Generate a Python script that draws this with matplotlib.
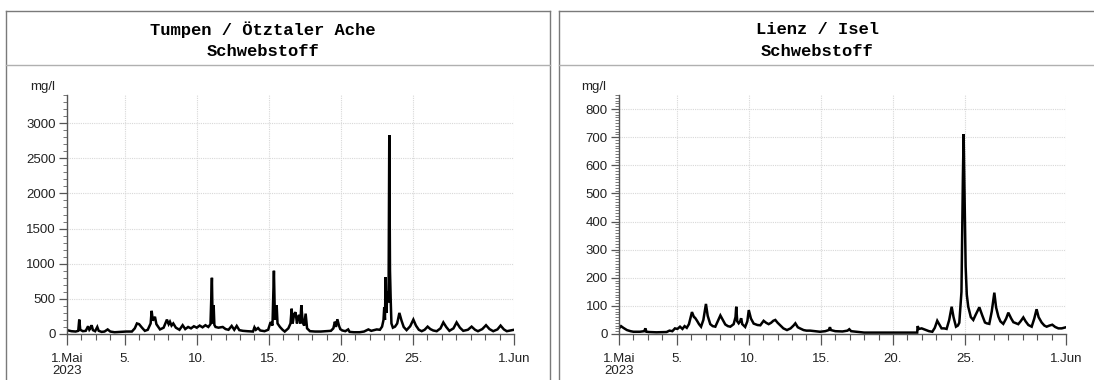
import matplotlib
matplotlib.use("Agg")
import matplotlib.pyplot as plt
from matplotlib.lines import Line2D
from matplotlib.ticker import FixedLocator, MultipleLocator

# ---------------- data (day of May, fractional; 32 = 1 June) ----------------
tumpen_day = [1.0, 1.3, 1.6, 1.78, 1.85, 1.92, 2.1, 2.3, 2.46, 2.55, 2.62, 2.71, 2.8, 2.95,
              3.1, 3.2, 3.4, 3.6, 3.82, 4.0, 4.3, 4.7, 5.1, 5.5, 5.7, 5.85, 6.0, 6.2, 6.4,
              6.6, 6.8, 6.87, 6.95, 7.1, 7.2, 7.45, 7.7, 7.93, 8.05, 8.14, 8.25, 8.37, 8.55,
              8.8, 9.02, 9.2, 9.4, 9.6, 9.8, 10.0, 10.2, 10.4, 10.6, 10.8, 10.95, 11.05,
              11.1, 11.17, 11.22, 11.3, 11.5, 11.8, 12.0, 12.2, 12.42, 12.6, 12.77, 12.95,
              13.2, 13.5, 13.9, 14.0, 14.1, 14.25, 14.4, 14.7, 14.95, 15.12, 15.25, 15.35,
              15.42, 15.54, 15.6, 15.77, 15.95, 16.1, 16.35, 16.5, 16.58, 16.65, 16.75,
              16.85, 16.95, 17.02, 17.1, 17.18, 17.25, 17.35, 17.45, 17.55, 17.65, 17.85,
              18.2, 18.6, 19.0, 19.3, 19.47, 19.58, 19.65, 19.75, 19.86, 19.95, 20.1, 20.3,
              20.5, 20.6, 20.9, 21.3, 21.6, 21.9, 22.1, 22.48, 22.7, 22.85, 22.95, 23.0,
              23.05, 23.1, 23.15, 23.22, 23.3, 23.35, 23.4, 23.45, 23.5, 23.6, 23.75, 23.9,
              24.05, 24.2, 24.35, 24.55, 24.8, 25.02, 25.2, 25.4, 25.6, 25.8, 26.01, 26.2,
              26.4, 26.64, 26.9, 27.1, 27.3, 27.52, 27.8, 28.02, 28.25, 28.48, 28.8, 29.06,
              29.3, 29.5, 29.8, 30.06, 30.3, 30.56, 30.85, 31.07, 31.3, 31.5, 31.75, 32.0]
tumpen_val = [55, 40, 35, 45, 205, 60, 40, 45, 110, 60, 80, 125, 55, 40,
              100, 45, 30, 35, 65, 35, 25, 30, 35, 35, 80, 150, 140, 90, 45,
              60, 150, 330, 190, 245, 140, 65, 90, 205, 140, 175, 120, 150, 90,
              60, 125, 70, 100, 80, 110, 90, 120, 95, 125, 100, 140, 800,
              150, 410, 130, 100, 90, 100, 70, 60, 115, 60, 115, 55,
              45, 40, 35, 95, 60, 85, 50, 40, 60, 170, 120, 900,
              200, 410, 150, 100, 60, 35, 80, 150, 360, 150, 280,
              310, 150, 240, 270, 150, 410, 160, 120, 290, 80, 40,
              35, 35, 40, 45, 80, 175, 100, 210, 120, 70, 50, 40,
              65, 30, 25, 25, 35, 65, 45, 65, 60, 105, 200, 380,
              200, 810, 300, 600, 450, 2830, 900, 480, 150, 90, 105, 150,
              300, 190, 100, 55, 110, 205, 120, 60, 40, 60, 105, 70,
              50, 40, 80, 165, 100, 45, 80, 165, 90, 45, 60, 105,
              60, 40, 70, 125, 70, 40, 65, 120, 65, 40, 50, 60]

lienz_day = [1.0, 1.14, 1.3, 1.55, 1.8, 2.0, 2.45, 2.75, 2.83, 2.9, 3.1, 3.6, 4.3, 4.5, 4.7,
             4.88, 5.05, 5.23, 5.4, 5.55, 5.7, 5.85, 6.06, 6.2, 6.27, 6.4, 6.55, 6.69, 6.85,
             7.03, 7.15, 7.33, 7.5, 7.68, 7.85, 8.03, 8.2, 8.37, 8.55, 8.72, 8.95, 9.08,
             9.13, 9.2, 9.3, 9.4, 9.47, 9.55, 9.75, 9.9, 10.0, 10.15, 10.34, 10.6, 10.8,
             11.03, 11.2, 11.38, 11.55, 11.7, 11.84, 12.0, 12.18, 12.4, 12.65, 12.9, 13.1,
             13.23, 13.4, 13.55, 13.8, 14.0, 14.25, 14.6, 14.94, 15.3, 15.55, 15.63, 15.7,
             16.0, 16.5, 16.85, 16.97, 17.1, 17.48, 18.0, 18.5, 19.5, 20.5, 21.0, 21.68,
             21.71, 21.8, 21.99, 22.2, 22.5, 22.73, 22.9, 23.07, 23.2, 23.37, 23.55, 23.72,
             23.9, 24.07, 24.2, 24.37, 24.5, 24.6, 24.75, 24.85, 24.9, 24.96, 25.04, 25.12,
             25.22, 25.4, 25.57, 25.75, 25.99, 26.2, 26.38, 26.5, 26.68, 26.85, 27.03,
             27.15, 27.31, 27.45, 27.65, 27.85, 28.0, 28.2, 28.35, 28.69, 28.85, 29.04,
             29.2, 29.39, 29.62, 29.8, 29.96, 30.1, 30.31, 30.5, 30.66, 30.85, 31.05,
             31.25, 31.47, 31.7, 32.0]
lienz_val = [20, 28, 22, 14, 10, 8, 8, 10, 20, 8, 7, 6, 7, 12, 10,
             20, 18, 26, 18, 28, 22, 35, 78, 60, 58, 48, 35, 26, 50,
             107, 65, 35, 28, 26, 45, 66, 50, 34, 28, 26, 35, 60,
             97, 45, 38, 45, 56, 35, 25, 45, 85, 55, 37, 32, 31,
             47, 40, 35, 40, 47, 50, 40, 31, 20, 14, 20, 30,
             38, 24, 20, 14, 12, 12, 10, 8, 10, 14, 24, 14,
             10, 9, 12, 17, 10, 8, 5, 5, 5, 5, 5, 5,
             28, 18, 20, 16, 10, 8, 22, 47, 35, 20, 20, 18,
             50, 97, 60, 26, 30, 40, 150, 560, 711, 500, 240, 140,
             97, 60, 50, 70, 95, 65, 41, 38, 36, 80, 147,
             95, 62, 45, 36, 55, 76, 55, 42, 35, 45, 59,
             45, 32, 26, 55, 88, 60, 41, 30, 26, 30, 33,
             25, 20, 20, 24]

tick_pos = [1, 5, 10, 15, 20, 25, 32]
tick_labels = ["1.Mai\n2023", "5.", "10.", "15.", "20.", "25.", "1.Jun"]
titles = [("Tumpen / Ötztaler Ache", "Schwebstoff"), ("Lienz / Isel", "Schwebstoff")]
unit = "mg/l"

# ---------------- layout ----------------
plt.rcParams["font.family"] = ["Liberation Sans", "DejaVu Sans"]
plt.rcParams["font.size"] = 9.5

W, H = 1094, 380
fig = plt.figure(figsize=(W / 100, H / 100), dpi=100)
fig.patch.set_facecolor("white")

def fx(px):
    return px / W

def fy(py):
    return 1 - py / H

def line(x0, y0, x1, y1, color="#7a7a7a", lw=1.0):
    fig.add_artist(Line2D([fx(x0), fx(x1)], [fy(y0), fy(y1)],
                          transform=fig.transFigure, color=color, lw=lw))

# panel frames
for (l, r) in [(6, 550), (559, 1100)]:
    line(l, 11, r, 11)
    line(l, 11, l, 382)
    line(r, 11, r, 382)
    line(l, 65, r, 65, color="#b0b0b0")

title_font = {"family": ["Liberation Mono", "DejaVu Sans Mono"], "size": 12.3,
              "weight": "bold"}

panels = [
    dict(ax_l=67, ax_r=514, days=tumpen_day, vals=tumpen_val, ymax=3400,
         major=500, minor=100, title_x=263, unit_x=43),
    dict(ax_l=619, ax_r=1066, days=lienz_day, vals=lienz_val, ymax=850,
         major=100, minor=10, title_x=817, unit_x=594),
]
ax_top, ax_bot = 95, 334

for p, (t1, t2) in zip(panels, titles):
    ax = fig.add_axes([fx(p["ax_l"]), fy(ax_bot), fx(p["ax_r"] - p["ax_l"]),
                       (ax_bot - ax_top) / H])
    ax.plot(p["days"], p["vals"], color="black", lw=1.8, solid_joinstyle="miter")
    ax.set_xlim(1, 32)
    ax.set_ylim(0, p["ymax"])
    for s in ["top", "right"]:
        ax.spines[s].set_visible(False)
    for s in ["left", "bottom"]:
        ax.spines[s].set_color("#555555")
        ax.spines[s].set_linewidth(1.0)
    ax.xaxis.set_major_locator(FixedLocator(tick_pos))
    ax.xaxis.set_minor_locator(MultipleLocator(1))
    ax.set_xticklabels(tick_labels)
    for lab in ax.get_xticklabels():
        lab.set_linespacing(0.95)
    ax.yaxis.set_major_locator(MultipleLocator(p["major"]))
    ax.yaxis.set_minor_locator(MultipleLocator(p["minor"]))
    ax.tick_params(axis="both", labelsize=9.5, labelcolor="#222222")
    ax.tick_params(axis="x", which="major", length=8, width=0.9, color="#555555", pad=6)
    ax.tick_params(axis="x", which="minor", length=4, width=0.8, color="#555555")
    ax.tick_params(axis="y", which="major", length=6, width=0.9, color="#555555", pad=2)
    ax.tick_params(axis="y", which="minor", length=3, width=0.7, color="#777777")
    ax.grid(True, which="major", color="#d8d8d8", lw=0.8, ls=(0, (1, 1)))
    ax.set_axisbelow(True)
    ax.set_facecolor("white")
    fig.text(fx(p["title_x"]), fy(30), t1, ha="center", va="center", **title_font)
    fig.text(fx(p["title_x"]), fy(52), t2, ha="center", va="center", **title_font)
    fig.text(fx(p["unit_x"]), fy(87), unit, ha="center", va="center",
             size=9.5, color="#222222")

fig.savefig("out.png", dpi=100, facecolor="white")
